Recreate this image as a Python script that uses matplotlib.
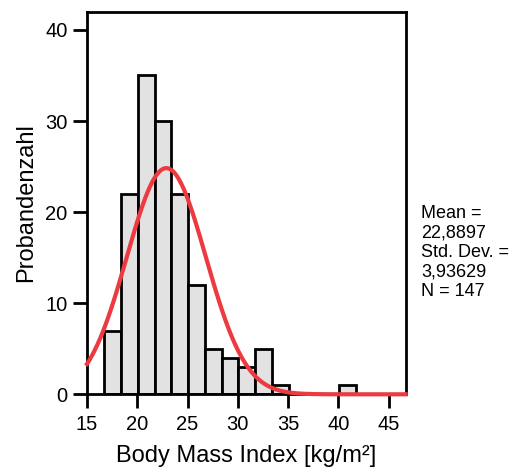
import matplotlib.pyplot as plt
import numpy as np

plt.rcParams['font.family'] = ['Liberation Sans', 'DejaVu Sans']

# histogram of BMI, bin width 5/3
bin_start = 16.73
bin_width = 5 / 3
counts = [7, 22, 35, 30, 22, 12, 5, 4, 3, 5, 1, 0, 0, 0, 1]

mean = 22.8897
std = 3.93629
n = 147

edges = bin_start + bin_width * np.arange(len(counts))

fig = plt.figure(figsize=(5.13, 4.69), dpi=100)
ax = fig.add_axes([87 / 513, 1 - 394.3 / 469, (405.7 - 87) / 513, (394.3 - 11.7) / 469])

ax.bar(edges, counts, width=bin_width, align='edge', color='#e2e2e2',
       edgecolor='black', linewidth=2, zorder=2)

xs = np.linspace(15, 46.7, 400)
ys = n * bin_width / (std * np.sqrt(2 * np.pi)) * np.exp(-0.5 * ((xs - mean) / std) ** 2)
ax.plot(xs, ys, color='#ec3a40', linewidth=3, zorder=3, clip_on=False)

ax.set_xlim(15, 46.7)
ax.set_ylim(0, 42)
ax.set_xticks([15, 20, 25, 30, 35, 40, 45])
ax.set_yticks([0, 10, 20, 30, 40])
ax.tick_params(direction='out', length=10, width=2, labelsize=14.5, pad=4)
ax.tick_params(axis='x', pad=5)
for s in ax.spines.values():
    s.set_linewidth(2)

ax.set_xlabel('Body Mass Index [kg/m²]', fontsize=17, labelpad=7.5)
ax.set_ylabel('Probandenzahl', fontsize=17, labelpad=6)

fig.text(421 / 513, 1 - 205 / 469,
         'Mean =\n22,8897\nStd. Dev. =\n3,93629\nN = 147',
         fontsize=13, va='top', ha='left', linespacing=1.2)

fig.savefig('out.png', dpi=100)
